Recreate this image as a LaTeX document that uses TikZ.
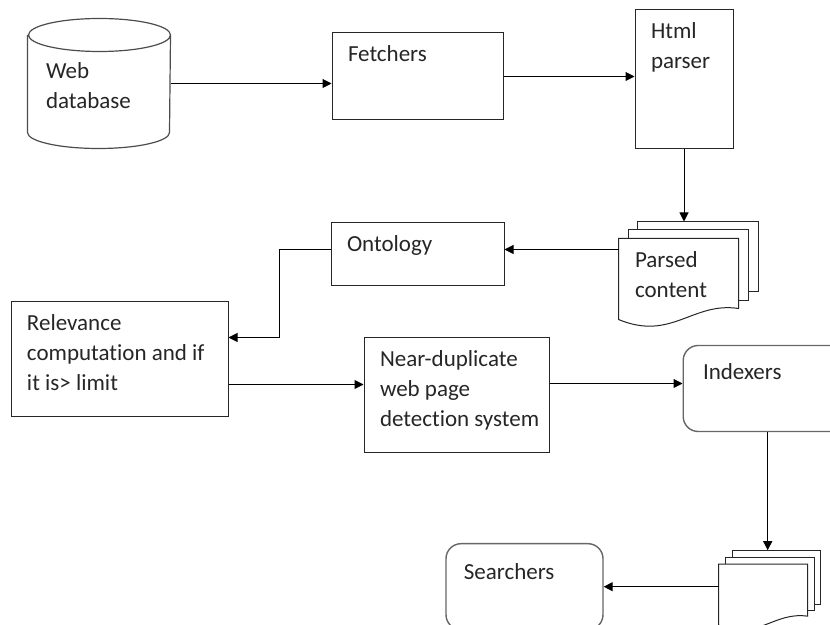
\documentclass[tikz,border=0pt]{standalone}
\usepackage{fontspec}
\setmainfont{Carlito}[Ligatures=NoCommon]
\usetikzlibrary{positioning,arrows.meta,backgrounds}

\begin{document}
\begin{tikzpicture}[
        x=1pt, y=1pt,
        box/.style={
                rectangle,
                draw=black!85,
                line width=1pt,
                inner sep=0pt,
            },
        soft/.style={
                rectangle,
                rounded corners=15pt,
                draw=black!60,
                line width=1.4pt,
                inner sep=0pt,
            },
        drum/.style={
                draw=black!70,
                line width=1.2pt,
            },
        sheet/.style={
                minimum width=119pt,
                minimum height=80pt,
                inner sep=0pt,
            },
        page/.style={
                draw=black!85,
                line width=1pt,
                fill=white,
            },
        lbl/.style={
                anchor=north west,
                align=left,
                inner xsep=16pt,
                inner ysep=13pt,
                text=black!85,
                font=\fontsize{23}{30}\selectfont,
            },
        >={Triangle[width=9pt,length=9pt]},
        line width=1pt
    ]
    \useasboundingbox (0,0) rectangle (830,624);
    \clip (0,0) rectangle (830,624);

    \node[minimum width=142pt, minimum height=129pt, inner sep=0pt, label={[lbl, anchor=west, inner xsep=18pt, inner ysep=0pt, yshift=-2pt]west:Web\\database}] (db) at (99,540.5) {};
    \node[box, minimum width=171pt, minimum height=87pt, label={[lbl]north west:Fetchers}] (fetch) [right=161pt of db, yshift=7pt] {};
    \node[box, minimum width=98pt, minimum height=139pt, label={[lbl]north west:Html\\parser}] (html) [right=131pt of fetch, yshift=-3pt] {};
    \node[sheet, label={[lbl, inner ysep=13pt]north west:Parsed\\content}] (parsed) [below=89pt of html, xshift=-5.5pt] {};
    \node[box, minimum width=173pt, minimum height=63pt, label={[lbl]north west:Ontology}] (onto) [below=102pt of fetch] {};
    \node[box, minimum width=217pt, minimum height=115pt, label={[lbl]north west:Relevance\\computation and if\\it is> limit}] (rel) [below left=15pt and 102pt of onto] {};
    \node[box, minimum width=185pt, minimum height=115pt, label={[lbl]north west:Near-duplicate\\web page\\detection system}] (dup) [right=135pt of rel, yshift=-35.5pt] {};
    \node[soft, minimum width=169pt, minimum height=86pt, label={[lbl, inner xsep=20pt, inner ysep=18pt]north west:Indexers}] (idx) [right=133pt of dup, yshift=6.5pt] {};
    \node[sheet, minimum width=88pt, minimum height=60pt] (pages) [below=132pt of idx, xshift=-4.5pt] {};
    \node[soft, minimum width=157pt, minimum height=86pt, label={[lbl, inner xsep=18pt, inner ysep=20pt]north west:Searchers}] (srch) [left=115pt of pages, yshift=8pt] {};

    % the database drum
    \draw[drum] ([yshift=-16.5pt]db.north west) -- ([yshift=16pt]db.south west)
        arc[start angle=180, end angle=360, x radius=71pt, y radius=16pt]
        -- ([yshift=-16.5pt]db.north east)
        arc[start angle=0, end angle=180, x radius=71pt, y radius=16.5pt]
        arc[start angle=180, end angle=360, x radius=71pt, y radius=16.5pt];

    % stacked pages, drawn under the text
    \begin{scope}[on background layer]
        \draw[page] ([shift={(19,17)}]parsed.north west) coordinate (parsedtop)
            rectangle ([shift={(20,28)}]parsed.south east);
        \draw[page] ([shift={(10,9)}]parsed.north west) rectangle ([shift={(10,19)}]parsed.south east);
        \draw[page] (parsed.north west) -- (parsed.north east) -- ([yshift=11]parsed.south east)
            .. controls ([shift={(-46,18)}]parsed.south east) and ([shift={(53,-22)}]parsed.south west)
            .. (parsed.south west) -- cycle;

        \draw[page] ([shift={(14,14)}]pages.north west) coordinate (pagestop)
            rectangle ([shift={(13,21)}]pages.south east);
        \draw[page] ([shift={(7,7)}]pages.north west) rectangle ([shift={(7,15)}]pages.south east);
        \draw[page] (pages.north west) -- (pages.north east) -- ([yshift=9]pages.south east)
            .. controls ([shift={(-34,14)}]pages.south east) and ([shift={(39,-16)}]pages.south west)
            .. (pages.south west) -- cycle;
    \end{scope}

    \draw[->] (db.east) -- (db.east -| fetch.west);
    \draw[->] (fetch.east) -- (fetch.east -| html.west);
    \draw[->] (html.south) -- (html.south |- parsedtop);
    \draw[->] ([yshift=-11pt]parsed.north west) -- ([yshift=-11pt]parsed.north west -| onto.east);
    \draw[->] ([yshift=4.5pt]onto.west) -- ++(-51,0) |- ([yshift=22pt]rel.east);
    \draw[->] ([yshift=-25pt]rel.east) -- ([yshift=-25pt]rel.east -| dup.west);
    \draw[->] ([yshift=11.5pt]dup.east) -- ([yshift=11.5pt]dup.east -| idx.west);
    \draw[->] (idx.south) -- (idx.south |- pagestop);
    \draw[->] (pages.west |- srch.east) -- (srch.east);
\end{tikzpicture}
\end{document}
